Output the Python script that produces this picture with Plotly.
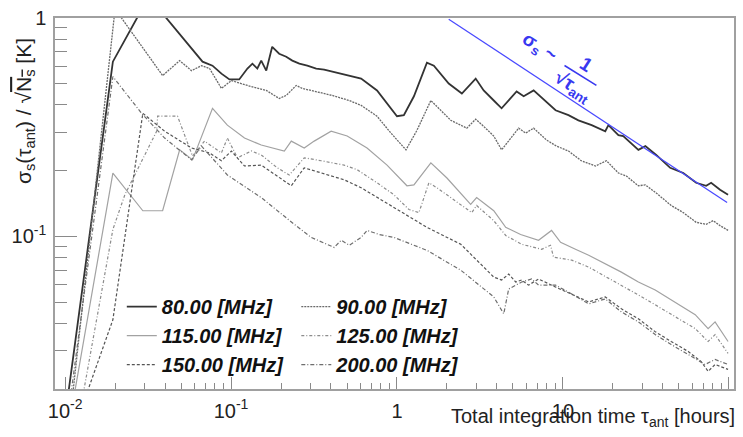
import plotly.graph_objects as go

# ---------------- data ----------------
# integration time [hours] and sigma_s / sqrt(N_s) [K]
x_80 = [0.01025, 0.0194, 0.0319, 0.049, 0.0578, 0.0673, 0.0773, 0.0875, 0.0978, 0.112, 0.1255, 0.1345,
        0.144, 0.152, 0.163, 0.177, 0.195, 0.215, 0.234, 0.258, 0.288, 0.326, 0.364, 0.407, 0.461, 0.515,
        0.608, 0.758, 1.0, 1.10, 1.265, 1.515, 1.668, 2.05, 2.46, 2.98, 3.33, 3.83, 4.27, 5.26, 5.80, 6.66,
        7.86, 9.03, 10.8, 12.4, 14.9, 18.0, 18.8, 21.6, 23.1, 28.5, 31.4, 36.5, 44.3, 53.1, 63.5, 73.0,
        78.2, 88.5, 98.9]
y_80 = [0.0171, 0.631, 1.25, 0.846, 0.723, 0.631, 0.605, 0.556, 0.523, 0.523, 0.587, 0.618,
        0.587, 0.638, 0.574, 0.738, 0.686, 0.665, 0.638, 0.618, 0.605, 0.587, 0.58, 0.568, 0.556, 0.545,
        0.528, 0.466, 0.355, 0.359, 0.438, 0.624, 0.605, 0.501, 0.451, 0.528, 0.466, 0.419, 0.386, 0.461,
        0.438, 0.466, 0.415, 0.378, 0.359, 0.340, 0.323, 0.303, 0.323, 0.291, 0.288, 0.249, 0.259, 0.236,
        0.206, 0.195, 0.176, 0.1705, 0.176, 0.1635, 0.155]

x_90 = [0.0110, 0.0200, 0.0387, 0.049, 0.0578, 0.0664, 0.0742, 0.0875, 0.1005, 0.1255, 0.163, 0.195,
        0.215, 0.247, 0.2686, 0.326, 0.407, 0.515, 0.608, 0.758, 0.920, 1.133, 1.319, 1.60, 2.11,
        2.635, 2.98, 3.33, 3.83, 4.27, 5.41, 5.96, 6.66, 7.97, 9.15, 10.8, 12.9, 15.7, 18.3, 21.6, 24.1,
        28.5, 31.4, 36.5, 44.9, 53.1, 63.5, 73.0, 80.4, 88.5, 98.9]
y_90 = [0.0176, 1.1, 0.545, 0.638, 0.574, 0.605, 0.587, 0.476, 0.517, 0.491, 0.466, 0.428,
        0.442, 0.491, 0.476, 0.461, 0.442, 0.419, 0.398, 0.355, 0.297, 0.249, 0.306, 0.419, 0.340,
        0.313, 0.344, 0.319, 0.288, 0.249, 0.313, 0.297, 0.313, 0.276, 0.259, 0.246, 0.222, 0.210, 0.222,
        0.195, 0.189, 0.1705, 0.172, 0.158, 0.1385, 0.1285, 0.116, 0.1135, 0.118, 0.112, 0.1065]

x_115 = [0.01118, 0.0194, 0.0294, 0.0387, 0.049, 0.0586, 0.0773, 0.095, 0.1205, 0.152, 0.2094, 0.2307,
         0.276, 0.317, 0.401, 0.501, 0.660, 0.871, 1.148, 1.265, 1.60, 2.0, 2.78, 3.02, 3.83, 4.52, 5.56,
         7.13, 8.54, 9.68, 11.9, 14.3, 22.5, 28.5, 36.0, 47.5, 62.7, 75.0, 82.6, 98.9]
y_115 = [0.0176, 0.195, 0.131, 0.131, 0.249, 0.224, 0.386, 0.323, 0.282, 0.262, 0.246, 0.273,
         0.254, 0.273, 0.303, 0.288, 0.254, 0.212, 0.1705, 0.172, 0.217, 0.185, 0.140, 0.1505, 0.131,
         0.110, 0.102, 0.096, 0.1065, 0.094, 0.0873, 0.082, 0.0686, 0.0618, 0.0568, 0.0501, 0.0438,
         0.0378, 0.0406, 0.033]

x_125 = [0.01262, 0.0194, 0.0229, 0.0356, 0.0361, 0.0476, 0.0586, 0.0692, 0.0875, 0.095, 0.1093, 0.1326,
         0.152, 0.190, 0.2244, 0.276, 0.3494, 0.480, 0.575, 0.758, 0.959, 1.18, 1.356, 1.557, 1.739, 2.2,
         2.823, 3.02, 3.475, 3.83, 4.52, 5.64, 7.44, 8.42, 8.78, 11.3, 14.3, 22.5, 28.5, 36.0, 47.5, 62.7,
         75.0, 82.6, 98.9]
y_125 = [0.0176, 0.1076, 0.155, 0.303, 0.355, 0.355, 0.233, 0.273, 0.241, 0.282, 0.229, 0.246,
         0.236, 0.206, 0.191, 0.229, 0.222, 0.212, 0.202, 0.176, 0.155, 0.1327, 0.1285, 0.176, 0.167,
         0.147, 0.1285, 0.1385, 0.126, 0.118, 0.101, 0.092, 0.0873, 0.091, 0.0803, 0.0778, 0.0723,
         0.0598, 0.0539, 0.0486, 0.0428, 0.0378, 0.033, 0.0355, 0.0291]

x_150 = [0.0130, 0.0194, 0.0252, 0.0294, 0.0398, 0.0578, 0.0742, 0.0875, 0.1005, 0.1205, 0.152, 0.190,
         0.2307, 0.276, 0.3797, 0.480, 0.608, 0.959, 1.515, 2.424, 3.83, 4.27, 4.71, 5.19, 5.64, 6.21,
         7.13, 9.03, 11.3, 14.3, 18.0, 22.5, 28.5, 36.0, 44.9, 56.9, 68.1, 75.0, 82.6, 98.9]
y_150 = [0.0176, 0.0415, 0.1635, 0.366, 0.303, 0.254, 0.241, 0.222, 0.246, 0.210, 0.212, 0.189,
         0.1705, 0.206, 0.191, 0.1816, 0.167, 0.1355, 0.110, 0.092, 0.0651, 0.0631, 0.0672, 0.0618,
         0.0631, 0.0598, 0.0638, 0.0586, 0.0545, 0.0501, 0.0528, 0.0466, 0.0419, 0.0366, 0.033, 0.0297,
         0.0267, 0.0241, 0.0259, 0.0246]

x_200 = [0.0107, 0.0194, 0.0289, 0.0398, 0.0578, 0.0664, 0.095, 0.152, 0.2405, 0.304, 0.418, 0.461,
         0.515, 0.608, 0.660, 0.780, 0.959, 1.515, 2.424, 3.83, 4.40, 4.71, 5.64, 6.48, 7.13, 9.03, 11.3,
         14.3, 18.0, 22.5, 28.5, 36.0, 44.9, 56.9, 71.9, 82.6, 98.9]
y_200 = [0.0176, 0.539, 0.366, 0.282, 0.224, 0.259, 0.191, 0.1505, 0.1135, 0.0989, 0.089, 0.096,
         0.091, 0.0989, 0.1065, 0.102, 0.0989, 0.0863, 0.070, 0.0528, 0.0442, 0.0574, 0.0618, 0.0638,
         0.0598, 0.0598, 0.0545, 0.0491, 0.0517, 0.0451, 0.0406, 0.0355, 0.032, 0.0288, 0.0259, 0.0273,
         0.0259]

# reference slope  sigma ~ 1/sqrt(tau)
fit_x = [2.05, 97.6]
fit_y = [0.988, 0.143]

series_names = ["80.00 [MHz]", "90.00 [MHz]", "115.00 [MHz]", "125.00 [MHz]", "150.00 [MHz]", "200.00 [MHz]"]

x_major = [0.01, 0.1, 1, 10, 100]
x_major_text = ["10<sup>-2</sup>", "10<sup>-1</sup>", "1", "10", "10<sup>2</sup>"]
x_minor = [m * d for d in (0.01, 0.1, 1, 10) for m in range(2, 10)]
y_major = [0.1, 1]
y_major_text = ["10<sup>-1</sup>", "1"]
y_minor = [m * d for d in (0.01, 0.1) for m in range(2, 10)]

# ---------------- figure ----------------
FONT = "Liberation Sans"
styles = [
    (x_80, y_80, "#333333", 1.8, "solid", "legend"),
    (x_90, y_90, "#6a6a6a", 1.3, "2px,1px", "legend2"),
    (x_115, y_115, "#a2a2a2", 1.2, "solid", "legend"),
    (x_125, y_125, "#8c8c8c", 1.2, "3px,2px,1px,2px", "legend2"),
    (x_150, y_150, "#555555", 1.2, "3px,2px", "legend"),
    (x_200, y_200, "#6e6e6e", 1.2, "4px,2px,1px,2px", "legend2"),
]

fig = go.Figure()
for name, (xs, ys, col, w, dash, lg) in zip(series_names, styles):
    fig.add_trace(go.Scatter(x=xs, y=ys, mode="lines", name=name,
                             line=dict(color=col, width=w, dash=dash), legend=lg))

fig.add_trace(go.Scatter(x=fit_x, y=fit_y, mode="lines", showlegend=False,
                         line=dict(color="#4848ff", width=1.2)))

W, H = 743, 437
L, R, T, B = 55, 7, 14, 48
pw, ph = W - L - R, H - T - B


def px(xp):
    return (xp - L) / pw


def py(yp):
    return (H - B - yp) / ph


legend_common = dict(bgcolor="rgba(0,0,0,0)", borderwidth=0, xanchor="left", yanchor="top",
                     font=dict(family=FONT, size=20, color="#111", weight="bold", style="italic"),
                     tracegroupgap=0, itemwidth=30)

blue = "#3838f0"
fig.update_layout(
    width=W, height=H,
    margin=dict(l=L, r=R, t=T, b=B),
    paper_bgcolor="white", plot_bgcolor="white",
    legend=dict(x=px(122), y=py(286), **legend_common),
    legend2=dict(x=px(297), y=py(286), **legend_common),
    xaxis=dict(type="log", range=[-2.061, 2.031], showgrid=False, zeroline=False,
               showline=True, linecolor="#a0a0a0", linewidth=1.5, mirror=True,
               ticks="inside", ticklen=12, tickwidth=1, tickcolor="#8a8a8a",
               tickmode="array", tickvals=x_major, ticktext=x_major_text,
               tickfont=dict(family=FONT, size=20, color="#222"), ticklabelstandoff=3,
               minor=dict(ticks="inside", ticklen=6, tickwidth=1, tickcolor="#8a8a8a",
                          tickmode="array", tickvals=x_minor, showgrid=False)),
    yaxis=dict(type="log", range=[-1.69897, 0], showgrid=False, zeroline=False,
               showline=True, linecolor="#a0a0a0", linewidth=1.5, mirror=True,
               ticks="inside", ticklen=22, tickwidth=1, tickcolor="#8a8a8a",
               tickmode="array", tickvals=y_major, ticktext=y_major_text,
               tickfont=dict(family=FONT, size=20, color="#222"), ticklabelstandoff=3,
               minor=dict(ticks="inside", ticklen=12, tickwidth=1, tickcolor="#8a8a8a",
                          tickmode="array", tickvals=y_minor, showgrid=False)),
    annotations=[
        dict(text="σ<sub>s</sub>(τ<sub>ant</sub>) / √<span style='text-decoration:overline'>N<sub>s</sub></span> [K]",
             xref="paper", yref="paper", x=px(25), y=py(108), xanchor="center", yanchor="middle",
             textangle=-90, showarrow=False, font=dict(family=FONT, size=21, color="#222")),
        dict(text="Total integration time τ<sub>ant</sub> [hours]",
             xref="paper", yref="paper", x=px(739), y=py(418), xanchor="right", yanchor="middle",
             showarrow=False, font=dict(family=FONT, size=20, color="#222")),
        dict(text="<b>σ<sub>s</sub> ~</b>", xref="paper", yref="paper", x=px(541), y=py(44),
             xanchor="center", yanchor="middle", textangle=33, showarrow=False,
             font=dict(family=FONT, size=19, color=blue)),
        dict(text="<b>1</b>", xref="paper", yref="paper", x=px(588), y=py(61),
             xanchor="center", yanchor="middle", textangle=33, showarrow=False,
             font=dict(family=FONT, size=19, color=blue)),
        dict(text="<b>√τ<sub>ant</sub></b>", xref="paper", yref="paper", x=px(574), y=py(84),
             xanchor="center", yanchor="middle", textangle=33, showarrow=False,
             font=dict(family=FONT, size=19, color=blue)),
    ],
    shapes=[dict(type="line", xref="paper", yref="paper", x0=px(566), y0=py(62), x1=px(598), y1=py(82),
                 line=dict(color=blue, width=1.5))],
)

fig.write_html("out.html")
